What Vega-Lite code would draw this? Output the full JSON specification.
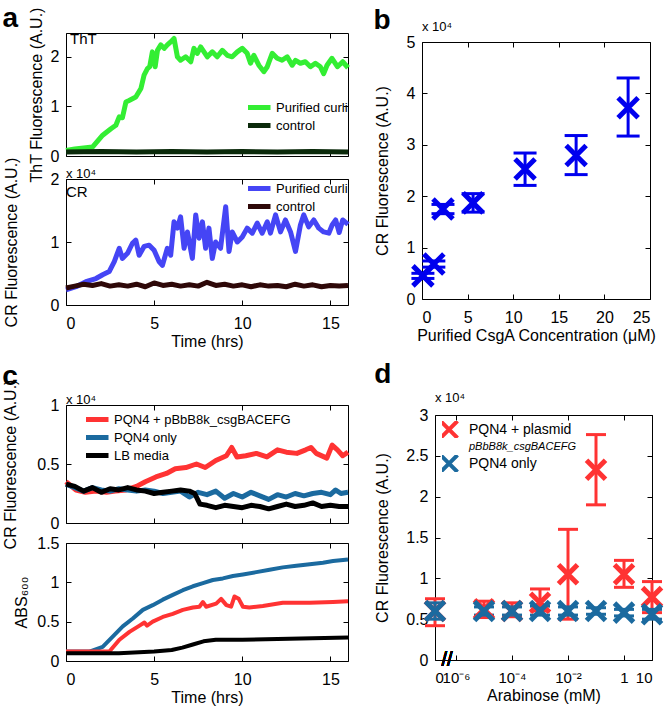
{
  "$schema": "https://vega.github.io/schema/vega-lite/v6.json",
  "background": "white",
  "padding": {"left": 2, "top": 5, "right": 0, "bottom": 0},
  "config": {
    "font": "Liberation Sans",
    "view": {"stroke": "black", "strokeWidth": 1},
    "axis": {"grid": false, "domain": false, "tickColor": "black", "tickSize": -5, "labelFontSize": 16, "titleFontSize": 16, "titleFontWeight": "normal", "labelColor": "black", "titleColor": "black", "labelFont": "Liberation Sans", "titleFont": "Liberation Sans"},
    "axisX": {"labelPadding": 15, "titlePadding": 2},
    "axisY": {"labelPadding": 12},
    "title": {"font": "Liberation Sans", "fontSize": 28, "fontWeight": "bold", "anchor": "start", "color": "black", "subtitleColor": "black", "subtitleFont": "Liberation Sans"},
    "legend": {"labelFontSize": 13, "labelFont": "Liberation Sans", "labelColor": "black", "symbolType": "M-4,0L4,0", "symbolStrokeWidth": 5, "symbolSize": 64, "rowPadding": 4, "clipHeight": 13, "padding": 0, "labelOffset": 15, "labelLimit": 300}
  },
  "resolve": {"scale": {"color": "independent"}, "legend": {"color": "independent"}},
  "datasets": {
    "tht": [
      {"time":0,"value":0.11,"series":"Purified curli"},{"time":0.5,"value":0.14,"series":"Purified curli"},{"time":1,"value":0.16,"series":"Purified curli"},{"time":1.5,"value":0.18,"series":"Purified curli"},{"time":2.08,"value":0.42,"series":"Purified curli"},{"time":2.55,"value":0.55,"series":"Purified curli"},{"time":2.83,"value":0.62,"series":"Purified curli"},{"time":3.02,"value":0.79,"series":"Purified curli"},{"time":3.2,"value":0.77,"series":"Purified curli"},{"time":3.4,"value":1.09,"series":"Purified curli"},{"time":3.58,"value":1.12,"series":"Purified curli"},{"time":3.96,"value":1.19,"series":"Purified curli"},{"time":4.25,"value":1.36,"series":"Purified curli"},{"time":4.43,"value":1.63,"series":"Purified curli"},{"time":4.62,"value":1.76,"series":"Purified curli"},{"time":4.75,"value":1.8,"series":"Purified curli"},{"time":4.9,"value":2.1,"series":"Purified curli"},{"time":5.06,"value":1.8,"series":"Purified curli"},{"time":5.19,"value":2.13,"series":"Purified curli"},{"time":5.38,"value":2.24,"series":"Purified curli"},{"time":5.57,"value":2.17,"series":"Purified curli"},{"time":5.75,"value":2.24,"series":"Purified curli"},{"time":5.94,"value":2.3,"series":"Purified curli"},{"time":6.13,"value":2.37,"series":"Purified curli"},{"time":6.32,"value":2.0,"series":"Purified curli"},{"time":6.5,"value":1.93,"series":"Purified curli"},{"time":6.79,"value":2.0,"series":"Purified curli"},{"time":7.08,"value":1.9,"series":"Purified curli"},{"time":7.26,"value":2.17,"series":"Purified curli"},{"time":7.45,"value":2.07,"series":"Purified curli"},{"time":7.64,"value":2.2,"series":"Purified curli"},{"time":7.83,"value":2.1,"series":"Purified curli"},{"time":8.02,"value":2.0,"series":"Purified curli"},{"time":8.3,"value":2.1,"series":"Purified curli"},{"time":8.58,"value":2.0,"series":"Purified curli"},{"time":8.87,"value":2.13,"series":"Purified curli"},{"time":9.15,"value":2.03,"series":"Purified curli"},{"time":9.43,"value":2.0,"series":"Purified curli"},{"time":9.72,"value":2.1,"series":"Purified curli"},{"time":10.0,"value":2.17,"series":"Purified curli"},{"time":10.28,"value":2.07,"series":"Purified curli"},{"time":10.47,"value":1.87,"series":"Purified curli"},{"time":10.66,"value":2.03,"series":"Purified curli"},{"time":10.94,"value":1.83,"series":"Purified curli"},{"time":11.23,"value":1.7,"series":"Purified curli"},{"time":11.42,"value":1.8,"series":"Purified curli"},{"time":11.7,"value":2.07,"series":"Purified curli"},{"time":11.98,"value":1.97,"series":"Purified curli"},{"time":12.26,"value":1.93,"series":"Purified curli"},{"time":12.55,"value":2.0,"series":"Purified curli"},{"time":12.83,"value":1.83,"series":"Purified curli"},{"time":13.02,"value":1.93,"series":"Purified curli"},{"time":13.3,"value":1.87,"series":"Purified curli"},{"time":13.58,"value":1.9,"series":"Purified curli"},{"time":13.87,"value":1.8,"series":"Purified curli"},{"time":14.15,"value":1.87,"series":"Purified curli"},{"time":14.43,"value":1.8,"series":"Purified curli"},{"time":14.62,"value":1.66,"series":"Purified curli"},{"time":14.81,"value":1.83,"series":"Purified curli"},{"time":15.09,"value":1.97,"series":"Purified curli"},{"time":15.4,"value":1.8,"series":"Purified curli"},{"time":15.7,"value":1.9,"series":"Purified curli"},{"time":16,"value":1.78,"series":"Purified curli"},
      {"time":0,"value":0.08,"series":"control"},{"time":2,"value":0.09,"series":"control"},{"time":4,"value":0.08,"series":"control"},{"time":6,"value":0.09,"series":"control"},{"time":8,"value":0.08,"series":"control"},{"time":10,"value":0.09,"series":"control"},{"time":12,"value":0.08,"series":"control"},{"time":14,"value":0.09,"series":"control"},{"time":16,"value":0.08,"series":"control"}
    ],
    "crA": [
      {"time":0,"value":0.24,"series":"Purified curli"},{"time":0.57,"value":0.29,"series":"Purified curli"},{"time":1.13,"value":0.37,"series":"Purified curli"},{"time":1.7,"value":0.42,"series":"Purified curli"},{"time":2.08,"value":0.48,"series":"Purified curli"},{"time":2.45,"value":0.53,"series":"Purified curli"},{"time":2.74,"value":0.69,"series":"Purified curli"},{"time":3.02,"value":0.9,"series":"Purified curli"},{"time":3.2,"value":0.74,"series":"Purified curli"},{"time":3.49,"value":0.82,"series":"Purified curli"},{"time":3.77,"value":0.98,"series":"Purified curli"},{"time":3.96,"value":1.03,"series":"Purified curli"},{"time":4.15,"value":0.79,"series":"Purified curli"},{"time":4.43,"value":0.93,"series":"Purified curli"},{"time":4.72,"value":0.95,"series":"Purified curli"},{"time":5.0,"value":0.87,"series":"Purified curli"},{"time":5.28,"value":0.69,"series":"Purified curli"},{"time":5.47,"value":0.63,"series":"Purified curli"},{"time":5.75,"value":0.9,"series":"Purified curli"},{"time":5.94,"value":0.79,"series":"Purified curli"},{"time":6.13,"value":1.32,"series":"Purified curli"},{"time":6.32,"value":1.22,"series":"Purified curli"},{"time":6.5,"value":1.4,"series":"Purified curli"},{"time":6.7,"value":0.9,"series":"Purified curli"},{"time":6.89,"value":1.16,"series":"Purified curli"},{"time":7.17,"value":0.74,"series":"Purified curli"},{"time":7.36,"value":1.43,"series":"Purified curli"},{"time":7.55,"value":1.06,"series":"Purified curli"},{"time":7.74,"value":1.32,"series":"Purified curli"},{"time":7.92,"value":0.9,"series":"Purified curli"},{"time":8.11,"value":1.22,"series":"Purified curli"},{"time":8.3,"value":0.74,"series":"Purified curli"},{"time":8.49,"value":1.0,"series":"Purified curli"},{"time":8.77,"value":0.9,"series":"Purified curli"},{"time":9.06,"value":1.56,"series":"Purified curli"},{"time":9.25,"value":0.85,"series":"Purified curli"},{"time":9.43,"value":1.16,"series":"Purified curli"},{"time":9.72,"value":1.0,"series":"Purified curli"},{"time":10.0,"value":1.08,"series":"Purified curli"},{"time":10.28,"value":1.22,"series":"Purified curli"},{"time":10.57,"value":1.14,"series":"Purified curli"},{"time":10.85,"value":1.3,"series":"Purified curli"},{"time":11.13,"value":1.14,"series":"Purified curli"},{"time":11.42,"value":1.32,"series":"Purified curli"},{"time":11.6,"value":1.14,"series":"Purified curli"},{"time":11.89,"value":1.43,"series":"Purified curli"},{"time":12.17,"value":1.16,"series":"Purified curli"},{"time":12.45,"value":1.35,"series":"Purified curli"},{"time":12.74,"value":1.16,"series":"Purified curli"},{"time":13.02,"value":0.85,"series":"Purified curli"},{"time":13.3,"value":1.27,"series":"Purified curli"},{"time":13.49,"value":1.43,"series":"Purified curli"},{"time":13.77,"value":1.24,"series":"Purified curli"},{"time":14.06,"value":1.35,"series":"Purified curli"},{"time":14.34,"value":1.22,"series":"Purified curli"},{"time":14.62,"value":1.16,"series":"Purified curli"},{"time":14.91,"value":1.14,"series":"Purified curli"},{"time":15.1,"value":1.27,"series":"Purified curli"},{"time":15.3,"value":1.35,"series":"Purified curli"},{"time":15.5,"value":1.15,"series":"Purified curli"},{"time":15.7,"value":1.35,"series":"Purified curli"},{"time":16,"value":1.28,"series":"Purified curli"},
      {"time":0,"value":0.27,"series":"control"},{"time":0.5,"value":0.3,"series":"control"},{"time":1,"value":0.33,"series":"control"},{"time":1.5,"value":0.31,"series":"control"},{"time":2,"value":0.34,"series":"control"},{"time":2.5,"value":0.3,"series":"control"},{"time":3,"value":0.32,"series":"control"},{"time":3.5,"value":0.3,"series":"control"},{"time":4,"value":0.33,"series":"control"},{"time":4.5,"value":0.29,"series":"control"},{"time":5,"value":0.35,"series":"control"},{"time":5.5,"value":0.31,"series":"control"},{"time":6,"value":0.33,"series":"control"},{"time":6.5,"value":0.3,"series":"control"},{"time":7,"value":0.32,"series":"control"},{"time":7.5,"value":0.3,"series":"control"},{"time":8,"value":0.36,"series":"control"},{"time":8.5,"value":0.31,"series":"control"},{"time":9,"value":0.33,"series":"control"},{"time":9.5,"value":0.3,"series":"control"},{"time":10,"value":0.32,"series":"control"},{"time":10.5,"value":0.29,"series":"control"},{"time":11,"value":0.32,"series":"control"},{"time":11.5,"value":0.3,"series":"control"},{"time":12,"value":0.31,"series":"control"},{"time":12.5,"value":0.29,"series":"control"},{"time":13,"value":0.33,"series":"control"},{"time":13.5,"value":0.3,"series":"control"},{"time":14,"value":0.32,"series":"control"},{"time":14.5,"value":0.29,"series":"control"},{"time":15,"value":0.31,"series":"control"},{"time":15.5,"value":0.3,"series":"control"},{"time":16,"value":0.31,"series":"control"}
    ],
    "crC": [
      {"time":0,"value":0.35,"series":"PQN4 + pBbB8k_csgBACEFG"},{"time":0.57,"value":0.28,"series":"PQN4 + pBbB8k_csgBACEFG"},{"time":1.1,"value":0.26,"series":"PQN4 + pBbB8k_csgBACEFG"},{"time":1.7,"value":0.27,"series":"PQN4 + pBbB8k_csgBACEFG"},{"time":2.3,"value":0.26,"series":"PQN4 + pBbB8k_csgBACEFG"},{"time":2.8,"value":0.27,"series":"PQN4 + pBbB8k_csgBACEFG"},{"time":3.4,"value":0.28,"series":"PQN4 + pBbB8k_csgBACEFG"},{"time":4.0,"value":0.31,"series":"PQN4 + pBbB8k_csgBACEFG"},{"time":4.5,"value":0.35,"series":"PQN4 + pBbB8k_csgBACEFG"},{"time":5.1,"value":0.39,"series":"PQN4 + pBbB8k_csgBACEFG"},{"time":5.7,"value":0.42,"series":"PQN4 + pBbB8k_csgBACEFG"},{"time":6.2,"value":0.46,"series":"PQN4 + pBbB8k_csgBACEFG"},{"time":6.8,"value":0.47,"series":"PQN4 + pBbB8k_csgBACEFG"},{"time":7.4,"value":0.5,"series":"PQN4 + pBbB8k_csgBACEFG"},{"time":7.9,"value":0.47,"series":"PQN4 + pBbB8k_csgBACEFG"},{"time":8.5,"value":0.53,"series":"PQN4 + pBbB8k_csgBACEFG"},{"time":9.1,"value":0.57,"series":"PQN4 + pBbB8k_csgBACEFG"},{"time":9.4,"value":0.64,"series":"PQN4 + pBbB8k_csgBACEFG"},{"time":9.7,"value":0.56,"series":"PQN4 + pBbB8k_csgBACEFG"},{"time":10.2,"value":0.57,"series":"PQN4 + pBbB8k_csgBACEFG"},{"time":10.8,"value":0.59,"series":"PQN4 + pBbB8k_csgBACEFG"},{"time":11.4,"value":0.56,"series":"PQN4 + pBbB8k_csgBACEFG"},{"time":12.0,"value":0.62,"series":"PQN4 + pBbB8k_csgBACEFG"},{"time":12.5,"value":0.6,"series":"PQN4 + pBbB8k_csgBACEFG"},{"time":13.1,"value":0.59,"series":"PQN4 + pBbB8k_csgBACEFG"},{"time":13.6,"value":0.62,"series":"PQN4 + pBbB8k_csgBACEFG"},{"time":13.9,"value":0.64,"series":"PQN4 + pBbB8k_csgBACEFG"},{"time":14.2,"value":0.59,"series":"PQN4 + pBbB8k_csgBACEFG"},{"time":14.8,"value":0.55,"series":"PQN4 + pBbB8k_csgBACEFG"},{"time":15.1,"value":0.66,"series":"PQN4 + pBbB8k_csgBACEFG"},{"time":15.4,"value":0.62,"series":"PQN4 + pBbB8k_csgBACEFG"},{"time":15.7,"value":0.57,"series":"PQN4 + pBbB8k_csgBACEFG"},{"time":16,"value":0.6,"series":"PQN4 + pBbB8k_csgBACEFG"},
      {"time":0,"value":0.33,"series":"PQN4 only"},{"time":0.5,"value":0.3,"series":"PQN4 only"},{"time":1,"value":0.27,"series":"PQN4 only"},{"time":1.5,"value":0.3,"series":"PQN4 only"},{"time":2,"value":0.28,"series":"PQN4 only"},{"time":2.5,"value":0.27,"series":"PQN4 only"},{"time":3,"value":0.29,"series":"PQN4 only"},{"time":3.5,"value":0.28,"series":"PQN4 only"},{"time":4,"value":0.27,"series":"PQN4 only"},{"time":4.5,"value":0.28,"series":"PQN4 only"},{"time":5,"value":0.27,"series":"PQN4 only"},{"time":5.5,"value":0.25,"series":"PQN4 only"},{"time":6,"value":0.26,"series":"PQN4 only"},{"time":6.5,"value":0.27,"series":"PQN4 only"},{"time":7,"value":0.22,"series":"PQN4 only"},{"time":7.5,"value":0.26,"series":"PQN4 only"},{"time":8,"value":0.24,"series":"PQN4 only"},{"time":8.5,"value":0.27,"series":"PQN4 only"},{"time":9,"value":0.21,"series":"PQN4 only"},{"time":9.5,"value":0.25,"series":"PQN4 only"},{"time":10,"value":0.22,"series":"PQN4 only"},{"time":10.5,"value":0.26,"series":"PQN4 only"},{"time":11,"value":0.23,"series":"PQN4 only"},{"time":11.5,"value":0.2,"series":"PQN4 only"},{"time":12,"value":0.24,"series":"PQN4 only"},{"time":12.5,"value":0.22,"series":"PQN4 only"},{"time":13,"value":0.25,"series":"PQN4 only"},{"time":13.5,"value":0.23,"series":"PQN4 only"},{"time":14,"value":0.25,"series":"PQN4 only"},{"time":14.5,"value":0.26,"series":"PQN4 only"},{"time":15,"value":0.24,"series":"PQN4 only"},{"time":15.3,"value":0.28,"series":"PQN4 only"},{"time":15.6,"value":0.25,"series":"PQN4 only"},{"time":16,"value":0.26,"series":"PQN4 only"},
      {"time":0,"value":0.33,"series":"LB media"},{"time":0.5,"value":0.31,"series":"LB media"},{"time":1,"value":0.27,"series":"LB media"},{"time":1.5,"value":0.3,"series":"LB media"},{"time":2,"value":0.26,"series":"LB media"},{"time":2.5,"value":0.29,"series":"LB media"},{"time":3,"value":0.28,"series":"LB media"},{"time":3.5,"value":0.3,"series":"LB media"},{"time":4,"value":0.28,"series":"LB media"},{"time":4.5,"value":0.27,"series":"LB media"},{"time":5,"value":0.25,"series":"LB media"},{"time":5.5,"value":0.26,"series":"LB media"},{"time":6,"value":0.27,"series":"LB media"},{"time":6.5,"value":0.28,"series":"LB media"},{"time":7,"value":0.27,"series":"LB media"},{"time":7.3,"value":0.25,"series":"LB media"},{"time":7.6,"value":0.16,"series":"LB media"},{"time":8,"value":0.15,"series":"LB media"},{"time":8.5,"value":0.13,"series":"LB media"},{"time":9,"value":0.15,"series":"LB media"},{"time":9.5,"value":0.14,"series":"LB media"},{"time":10,"value":0.13,"series":"LB media"},{"time":10.5,"value":0.15,"series":"LB media"},{"time":11,"value":0.14,"series":"LB media"},{"time":11.5,"value":0.12,"series":"LB media"},{"time":12,"value":0.14,"series":"LB media"},{"time":12.5,"value":0.16,"series":"LB media"},{"time":13,"value":0.14,"series":"LB media"},{"time":13.5,"value":0.15,"series":"LB media"},{"time":14,"value":0.17,"series":"LB media"},{"time":14.5,"value":0.14,"series":"LB media"},{"time":15,"value":0.15,"series":"LB media"},{"time":15.5,"value":0.14,"series":"LB media"},{"time":16,"value":0.14,"series":"LB media"}
    ],
    "abs": [
      {"time":0,"value":0.12,"series":"PQN4 only"},{"time":1.33,"value":0.12,"series":"PQN4 only"},{"time":2.08,"value":0.18,"series":"PQN4 only"},{"time":2.65,"value":0.31,"series":"PQN4 only"},{"time":3.22,"value":0.44,"series":"PQN4 only"},{"time":3.79,"value":0.54,"series":"PQN4 only"},{"time":4.36,"value":0.65,"series":"PQN4 only"},{"time":4.92,"value":0.71,"series":"PQN4 only"},{"time":5.49,"value":0.78,"series":"PQN4 only"},{"time":6.06,"value":0.84,"series":"PQN4 only"},{"time":6.63,"value":0.9,"series":"PQN4 only"},{"time":7.2,"value":0.95,"series":"PQN4 only"},{"time":7.77,"value":0.99,"series":"PQN4 only"},{"time":8.33,"value":1.03,"series":"PQN4 only"},{"time":8.9,"value":1.05,"series":"PQN4 only"},{"time":9.47,"value":1.08,"series":"PQN4 only"},{"time":10.04,"value":1.1,"series":"PQN4 only"},{"time":10.8,"value":1.13,"series":"PQN4 only"},{"time":11.55,"value":1.16,"series":"PQN4 only"},{"time":12.3,"value":1.19,"series":"PQN4 only"},{"time":13.07,"value":1.21,"series":"PQN4 only"},{"time":13.83,"value":1.23,"series":"PQN4 only"},{"time":14.58,"value":1.25,"series":"PQN4 only"},{"time":15.15,"value":1.27,"series":"PQN4 only"},{"time":16,"value":1.29,"series":"PQN4 only"},
      {"time":0,"value":0.12,"series":"PQN4 + pBbB8k_csgBACEFG"},{"time":2.46,"value":0.12,"series":"PQN4 + pBbB8k_csgBACEFG"},{"time":3.03,"value":0.27,"series":"PQN4 + pBbB8k_csgBACEFG"},{"time":3.6,"value":0.37,"series":"PQN4 + pBbB8k_csgBACEFG"},{"time":4.17,"value":0.45,"series":"PQN4 + pBbB8k_csgBACEFG"},{"time":4.45,"value":0.49,"series":"PQN4 + pBbB8k_csgBACEFG"},{"time":4.6,"value":0.45,"series":"PQN4 + pBbB8k_csgBACEFG"},{"time":4.92,"value":0.5,"series":"PQN4 + pBbB8k_csgBACEFG"},{"time":5.49,"value":0.56,"series":"PQN4 + pBbB8k_csgBACEFG"},{"time":6.06,"value":0.6,"series":"PQN4 + pBbB8k_csgBACEFG"},{"time":6.63,"value":0.65,"series":"PQN4 + pBbB8k_csgBACEFG"},{"time":7.2,"value":0.68,"series":"PQN4 + pBbB8k_csgBACEFG"},{"time":7.57,"value":0.69,"series":"PQN4 + pBbB8k_csgBACEFG"},{"time":7.77,"value":0.75,"series":"PQN4 + pBbB8k_csgBACEFG"},{"time":7.95,"value":0.69,"series":"PQN4 + pBbB8k_csgBACEFG"},{"time":8.52,"value":0.73,"series":"PQN4 + pBbB8k_csgBACEFG"},{"time":8.8,"value":0.79,"series":"PQN4 + pBbB8k_csgBACEFG"},{"time":9.1,"value":0.71,"series":"PQN4 + pBbB8k_csgBACEFG"},{"time":9.37,"value":0.69,"series":"PQN4 + pBbB8k_csgBACEFG"},{"time":9.56,"value":0.82,"series":"PQN4 + pBbB8k_csgBACEFG"},{"time":9.8,"value":0.79,"series":"PQN4 + pBbB8k_csgBACEFG"},{"time":10.04,"value":0.69,"series":"PQN4 + pBbB8k_csgBACEFG"},{"time":10.4,"value":0.68,"series":"PQN4 + pBbB8k_csgBACEFG"},{"time":11.17,"value":0.7,"series":"PQN4 + pBbB8k_csgBACEFG"},{"time":12.3,"value":0.74,"series":"PQN4 + pBbB8k_csgBACEFG"},{"time":13.83,"value":0.74,"series":"PQN4 + pBbB8k_csgBACEFG"},{"time":15.15,"value":0.75,"series":"PQN4 + pBbB8k_csgBACEFG"},{"time":16,"value":0.76,"series":"PQN4 + pBbB8k_csgBACEFG"},
      {"time":0,"value":0.1,"series":"LB media"},{"time":3,"value":0.1,"series":"LB media"},{"time":5,"value":0.12,"series":"LB media"},{"time":6,"value":0.14,"series":"LB media"},{"time":6.6,"value":0.17,"series":"LB media"},{"time":7.2,"value":0.21,"series":"LB media"},{"time":7.8,"value":0.25,"series":"LB media"},{"time":8.5,"value":0.27,"series":"LB media"},{"time":10,"value":0.27,"series":"LB media"},{"time":12,"value":0.28,"series":"LB media"},{"time":14,"value":0.29,"series":"LB media"},{"time":16,"value":0.3,"series":"LB media"}
    ],
    "csga": [
      {"conc":0.1,"mean":0.45,"lo":0.4,"hi":0.5},
      {"conc":1.3,"mean":0.68,"lo":0.62,"hi":0.74},
      {"conc":2.3,"mean":1.75,"lo":1.66,"hi":1.84},
      {"conc":5.6,"mean":1.87,"lo":1.69,"hi":2.05},
      {"conc":11.3,"mean":2.53,"lo":2.21,"hi":2.84},
      {"conc":16.9,"mean":2.79,"lo":2.42,"hi":3.18},
      {"conc":22.6,"mean":3.72,"lo":3.17,"hi":4.3}
    ],
    "arab": [
      {"logArabinose":-6.75,"strain":"PQN4 + plasmid","mean":0.6,"lo":0.42,"hi":0.75},
      {"logArabinose":-5,"strain":"PQN4 + plasmid","mean":0.62,"lo":0.52,"hi":0.72},
      {"logArabinose":-4,"strain":"PQN4 + plasmid","mean":0.6,"lo":0.53,"hi":0.7},
      {"logArabinose":-3,"strain":"PQN4 + plasmid","mean":0.7,"lo":0.6,"hi":0.87},
      {"logArabinose":-2,"strain":"PQN4 + plasmid","mean":1.05,"lo":0.5,"hi":1.6},
      {"logArabinose":-1,"strain":"PQN4 + plasmid","mean":2.33,"lo":1.9,"hi":2.76},
      {"logArabinose":0,"strain":"PQN4 + plasmid","mean":1.05,"lo":0.89,"hi":1.22},
      {"logArabinose":1,"strain":"PQN4 + plasmid","mean":0.77,"lo":0.58,"hi":0.96},
      {"logArabinose":-6.75,"strain":"PQN4 only","mean":0.6,"lo":0.5,"hi":0.7},
      {"logArabinose":-5,"strain":"PQN4 only","mean":0.6,"lo":0.55,"hi":0.65},
      {"logArabinose":-4,"strain":"PQN4 only","mean":0.6,"lo":0.55,"hi":0.65},
      {"logArabinose":-3,"strain":"PQN4 only","mean":0.6,"lo":0.55,"hi":0.66},
      {"logArabinose":-2,"strain":"PQN4 only","mean":0.6,"lo":0.55,"hi":0.65},
      {"logArabinose":-1,"strain":"PQN4 only","mean":0.6,"lo":0.56,"hi":0.64},
      {"logArabinose":0,"strain":"PQN4 only","mean":0.58,"lo":0.54,"hi":0.62},
      {"logArabinose":1,"strain":"PQN4 only","mean":0.56,"lo":0.5,"hi":0.62}
    ]
  },
  "columns": 2,
  "align": "none",
  "spacing": 22,
  "concat": [
    {
      "spacing": 12,
      "resolve": {"scale": {"color": "independent"}, "legend": {"color": "independent"}},
      "vconcat": [
        {
          "title": {"text": "a", "offset": -27},
          "spacing": 23,
          "bounds": "flush",
          "resolve": {"scale": {"color": "independent"}, "legend": {"color": "independent"}},
          "vconcat": [
            {
              "width": 282, "height": 123,
              "title": {"text": "ThT", "fontSize": 15, "fontWeight": "normal", "frame": "group", "offset": -40, "dx": 4},
              "data": {"name": "tht"},
              "layer": [
                {"mark": {"type": "line", "strokeWidth": 5, "strokeJoin": "round"},
                 "encoding": {
                   "x": {"field": "time", "type": "quantitative", "scale": {"domain": [0, 16], "nice": false}, "axis": {"values": [0, 5, 10, 15], "labels": false, "title": null}},
                   "y": {"field": "value", "type": "quantitative", "scale": {"domain": [0, 2.48], "nice": false}, "axis": {"values": [0, 1, 2], "title": "ThT Fluorescence (A.U.)", "titlePadding": 6}},
                   "color": {"field": "series", "type": "nominal", "scale": {"domain": ["Purified curli", "control"], "range": ["#33ee33", "#0b2a0b"]}, "legend": {"orient": "none", "legendX": 182, "legendY": 68, "title": null}}
                 }},
                {"mark": {"type": "line", "opacity": 0},
                 "encoding": {
                   "x": {"field": "time", "type": "quantitative", "axis": {"orient": "top", "values": [0, 5, 10, 15], "labels": false, "title": null}},
                   "y": {"field": "value", "type": "quantitative", "axis": {"orient": "right", "values": [0, 1, 2], "labels": false, "title": null}},
                   "detail": {"field": "series"}
                 }}
              ],
              "resolve": {"axis": {"x": "independent", "y": "independent"}}
            },
            {
              "width": 282, "height": 126,
              "title": {"text": "x 10⁴", "subtitle": "  CR", "fontSize": 13, "subtitleFontSize": 15, "fontWeight": "normal", "frame": "group", "offset": -43, "subtitlePadding": 4},
              "data": {"name": "crA"},
              "layer": [
                {"mark": {"type": "line", "strokeWidth": 5, "strokeJoin": "round"},
                 "encoding": {
                   "x": {"field": "time", "type": "quantitative", "scale": {"domain": [0, 16], "nice": false}, "axis": {"values": [0, 5, 10, 15], "title": "Time (hrs)"}},
                   "y": {"field": "value", "type": "quantitative", "scale": {"domain": [0, 2], "nice": false}, "axis": {"values": [0, 1, 2], "format": "~g", "title": "CR Fluorescence (A.U.)", "titlePadding": 31}},
                   "color": {"field": "series", "type": "nominal", "scale": {"domain": ["Purified curli", "control"], "range": ["#4545f5", "#2e0808"]}, "legend": {"orient": "none", "legendX": 182, "legendY": 3, "title": null}}
                 }},
                {"mark": {"type": "line", "opacity": 0},
                 "encoding": {
                   "x": {"field": "time", "type": "quantitative", "axis": {"orient": "top", "values": [0, 5, 10, 15], "labels": false, "title": null}},
                   "y": {"field": "value", "type": "quantitative", "axis": {"orient": "right", "values": [0, 1, 2], "labels": false, "title": null}},
                   "detail": {"field": "series"}
                 }}
              ],
              "resolve": {"axis": {"x": "independent", "y": "independent"}}
            }
          ]
        },
        {
          "title": {"text": "c", "offset": -12},
          "spacing": 20,
          "bounds": "flush",
          "resolve": {"scale": {"color": "independent"}, "legend": {"color": "independent"}},
          "vconcat": [
            {
              "width": 282, "height": 118,
              "title": {"text": "x 10⁴", "fontSize": 13, "fontWeight": "normal", "frame": "group", "offset": -28},
              "data": {"name": "crC"},
              "layer": [
                {"mark": {"type": "line", "strokeWidth": 5, "strokeJoin": "round"},
                 "encoding": {
                   "x": {"field": "time", "type": "quantitative", "scale": {"domain": [0, 16], "nice": false}, "axis": {"values": [0, 5, 10, 15], "labels": false, "title": null}},
                   "y": {"field": "value", "type": "quantitative", "scale": {"domain": [0, 1], "nice": false}, "axis": {"values": [0, 0.5, 1], "format": "~g", "title": "CR Fluorescence (A.U.)", "titlePadding": 18}},
                   "color": {"field": "series", "type": "nominal", "scale": {"domain": ["PQN4 + pBbB8k_csgBACEFG", "PQN4 only", "LB media"], "range": ["#ff3333", "#1b6a9f", "#000000"]}, "legend": {"orient": "none", "legendX": 20, "legendY": 8, "title": null, "labelFontSize": 13}}
                 }},
                {"mark": {"type": "line", "opacity": 0},
                 "encoding": {
                   "x": {"field": "time", "type": "quantitative", "axis": {"orient": "top", "values": [0, 5, 10, 15], "labels": false, "title": null}},
                   "y": {"field": "value", "type": "quantitative", "axis": {"orient": "right", "values": [0, 0.5, 1], "labels": false, "title": null}},
                   "detail": {"field": "series"}
                 }}
              ],
              "resolve": {"axis": {"x": "independent", "y": "independent"}}
            },
            {
              "width": 282, "height": 118,
              "data": {"name": "abs"},
              "layer": [
                {"mark": {"type": "line", "strokeWidth": 4, "strokeJoin": "round"},
                 "encoding": {
                   "x": {"field": "time", "type": "quantitative", "scale": {"domain": [0, 16], "nice": false}, "axis": {"values": [0, 5, 10, 15], "title": "Time (hrs)"}},
                   "y": {"field": "value", "type": "quantitative", "scale": {"domain": [0, 1.5], "nice": false}, "axis": {"values": [0, 0.5, 1, 1.5], "format": "~g", "title": "ABS₆₀₀", "titlePadding": 7}},
                   "color": {"field": "series", "type": "nominal", "scale": {"domain": ["PQN4 + pBbB8k_csgBACEFG", "PQN4 only", "LB media"], "range": ["#ff3333", "#1b6a9f", "#000000"]}, "legend": null}
                 }},
                {"mark": {"type": "line", "opacity": 0},
                 "encoding": {
                   "x": {"field": "time", "type": "quantitative", "axis": {"orient": "top", "values": [0, 5, 10, 15], "labels": false, "title": null}},
                   "y": {"field": "value", "type": "quantitative", "axis": {"orient": "right", "values": [0, 0.5, 1, 1.5], "labels": false, "title": null}},
                   "detail": {"field": "series"}
                 }}
              ],
              "resolve": {"axis": {"x": "independent", "y": "independent"}}
            }
          ]
        }
      ]
    },
    {
      "columns": 1,
      "align": "none",
      "spacing": 16,
      "resolve": {"scale": {"color": "independent"}, "legend": {"color": "independent"}},
      "concat": [
        {
          "title": {"text": "b", "offset": -14},
          "bounds": "flush",
          "spacing": 8,
          "vconcat": [
            {
              "width": 228, "height": 1,
              "view": {"stroke": null},
              "data": {"values": [{"k": 0}]},
              "mark": {"type": "point", "opacity": 0},
              "encoding": {}
            },
            {
              "width": 228, "height": 257,
              "title": {"text": "x 10⁴", "fontSize": 13, "fontWeight": "normal", "frame": "group", "offset": 0},
              "data": {"name": "csga"},
              "layer": [
                {"mark": {"type": "rule", "strokeWidth": 3, "color": "#0000ee"},
                 "encoding": {
                   "x": {"field": "conc", "type": "quantitative", "scale": {"domain": [0, 25], "nice": false}, "axis": {"values": [0, 5, 10, 15, 20, 25], "title": "Purified CsgA Concentration (μM)"}},
                   "y": {"field": "lo", "type": "quantitative", "scale": {"domain": [0, 5], "nice": false}, "axis": {"values": [0, 1, 2, 3, 4, 5], "title": "CR Fluorescence (A.U.)", "titlePadding": 16}},
                   "y2": {"field": "hi"}
                 }},
                {"mark": {"type": "point", "shape": "M-1,0L1,0", "size": 529, "filled": false, "strokeWidth": 3, "color": "#0000ee", "opacity": 1},
                 "encoding": {"x": {"field": "conc", "type": "quantitative", "axis": null}, "y": {"field": "lo", "type": "quantitative", "axis": null}}},
                {"mark": {"type": "point", "shape": "M-1,0L1,0", "size": 529, "filled": false, "strokeWidth": 3, "color": "#0000ee", "opacity": 1},
                 "encoding": {"x": {"field": "conc", "type": "quantitative", "axis": null}, "y": {"field": "hi", "type": "quantitative", "axis": null}}},
                {"mark": {"type": "point", "shape": "M-1,-1L1,1M-1,1L1,-1", "size": 400, "filled": false, "strokeWidth": 5, "color": "#0000ee", "opacity": 1},
                 "encoding": {"x": {"field": "conc", "type": "quantitative", "axis": null}, "y": {"field": "mean", "type": "quantitative", "axis": null}}},
                {"mark": {"type": "point", "opacity": 0},
                 "encoding": {
                   "x": {"field": "conc", "type": "quantitative", "axis": {"orient": "top", "values": [0, 5, 10, 15, 20, 25], "labels": false, "title": null}},
                   "y": {"field": "mean", "type": "quantitative", "axis": {"orient": "right", "values": [0, 1, 2, 3, 4, 5], "labels": false, "title": null}}
                 }}
              ],
              "resolve": {"axis": {"x": "independent", "y": "independent"}}
            }
          ]
        },
        {
          "title": {"text": "d", "offset": 3},
          "bounds": "flush",
          "spacing": 12,
          "hconcat": [
            {
              "width": 1, "height": 245,
              "view": {"stroke": null},
              "data": {"values": [{"k": 0}]},
              "mark": {"type": "point", "opacity": 0},
              "encoding": {}
            },
            {
              "width": 217, "height": 245,
              "title": {"text": "x 10⁴", "fontSize": 13, "fontWeight": "normal", "frame": "group", "offset": 2},
              "data": {"name": "arab"},
              "layer": [
                {"mark": {"type": "rule", "strokeWidth": 3},
                 "encoding": {
                   "x": {"field": "logArabinose", "type": "quantitative", "scale": {"domain": [-6.75, 1], "nice": false, "zero": false}, "axis": {"values": [-6.75, -6, -4, -2, 0, 1], "labelFontSize": 15, "labelOverlap": false, "labelBound": false, "labelExpr": "datum.value == -6.75 ? '0' : datum.value == -6 ? '10⁻⁶' : datum.value == -4 ? '10⁻⁴' : datum.value == -2 ? '10⁻²' : datum.value == 0 ? '1' : '10'", "title": "Arabinose (mM)"}},
                   "y": {"field": "lo", "type": "quantitative", "scale": {"domain": [0, 3], "nice": false}, "axis": {"values": [0, 0.5, 1, 1.5, 2, 2.5, 3], "format": "~g", "title": "CR Fluorescence (A.U.)", "titlePadding": 15}},
                   "y2": {"field": "hi"},
                   "color": {"field": "strain", "type": "nominal", "scale": {"domain": ["PQN4 + plasmid", "pBbB8k_csgBACEFG", "PQN4 only"], "range": ["#ff3333", "rgba(0,0,0,0)", "#1b6a9f"]},
                     "legend": {"orient": "none", "legendX": 20, "legendY": 6, "title": null, "symbolType": "M-2,-2L2,2M-2,2L2,-2", "symbolSize": 72, "symbolStrokeWidth": 4, "symbolFillColor": "transparent", "labelFontSize": 14, "rowPadding": 0, "clipHeight": 17, "labelOffset": 13,
                       "encode": {
                         "symbols": {"update": {"size": {"value": 72}, "shape": {"value": "M-2,-2L2,2M-2,2L2,-2"}, "strokeWidth": {"value": 4}}},
                         "labels": {"update": {"fontStyle": {"signal": "datum.value === 'pBbB8k_csgBACEFG' ? 'italic' : 'normal'"}, "fontSize": {"signal": "datum.value === 'pBbB8k_csgBACEFG' ? 11 : 14"}}}}}}
                 }},
                {"mark": {"type": "point", "shape": "M-1,0L1,0", "size": 400, "filled": false, "strokeWidth": 3, "opacity": 1},
                 "encoding": {"x": {"field": "logArabinose", "type": "quantitative", "axis": null}, "y": {"field": "lo", "type": "quantitative", "axis": null}, "color": {"field": "strain", "type": "nominal"}}},
                {"mark": {"type": "point", "shape": "M-1,0L1,0", "size": 400, "filled": false, "strokeWidth": 3, "opacity": 1},
                 "encoding": {"x": {"field": "logArabinose", "type": "quantitative", "axis": null}, "y": {"field": "hi", "type": "quantitative", "axis": null}, "color": {"field": "strain", "type": "nominal"}}},
                {"mark": {"type": "point", "shape": "M-1,-1L1,1M-1,1L1,-1", "size": 361, "filled": false, "strokeWidth": 5, "opacity": 1},
                 "encoding": {"x": {"field": "logArabinose", "type": "quantitative", "axis": null}, "y": {"field": "mean", "type": "quantitative", "axis": null}, "color": {"field": "strain", "type": "nominal"}}},
                {"mark": {"type": "text", "text": "//", "fontSize": 20, "font": "Liberation Sans"},
                 "encoding": {"x": {"datum": -6.32, "axis": null}, "y": {"datum": 0, "axis": null}}},
                {"mark": {"type": "point", "opacity": 0},
                 "encoding": {
                   "x": {"field": "logArabinose", "type": "quantitative", "axis": {"orient": "top", "values": [-6, -4, -2, 0, 1], "labels": false, "title": null}},
                   "y": {"field": "mean", "type": "quantitative", "axis": {"orient": "right", "values": [0, 0.5, 1, 1.5, 2, 2.5, 3], "labels": false, "title": null}}
                 }}
              ],
              "resolve": {"axis": {"x": "independent", "y": "independent"}}
            }
          ]
        }
      ]
    }
  ]
}
